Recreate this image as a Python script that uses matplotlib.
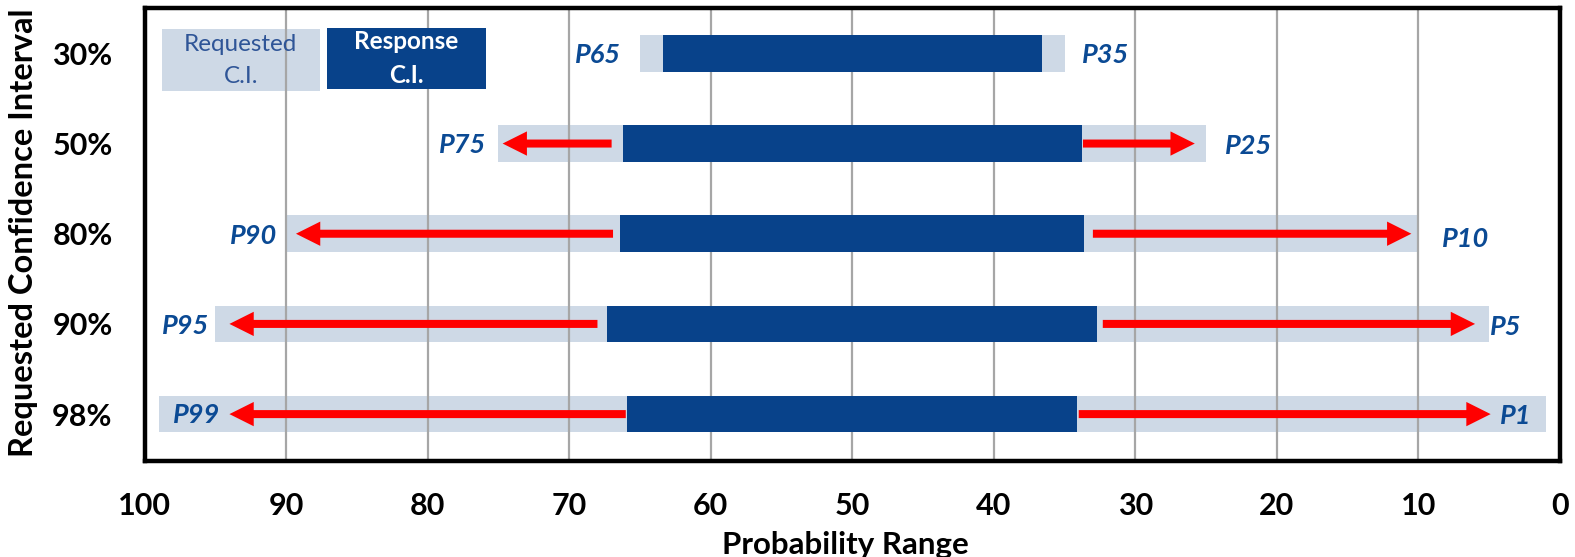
import matplotlib
matplotlib.use("Agg")
import matplotlib.pyplot as plt
from matplotlib.patches import Rectangle

# ---- data -------------------------------------------------------------
ci_labels = ["30%", "50%", "80%", "90%", "98%"]

# requested confidence interval bounds (probability %)
req_high = [65, 75, 90, 95, 99]
req_low = [35, 25, 10, 5, 1]

# response confidence interval bounds
resp_high = [63.4, 66.2, 66.4, 67.3, 65.9]
resp_low = [36.6, 33.8, 33.6, 32.7, 34.1]

high_labels = ["P65", "P75", "P90", "P95", "P99"]
low_labels = ["P35", "P25", "P10", "P5", "P1"]

# widening arrows (start -> tip); None where no arrow is drawn
arrow_hi_start = [None, 67.0, 66.9, 68.0, 66.0]
arrow_hi_tip = [None, 74.7, 89.3, 94.0, 94.0]
arrow_lo_start = [None, 33.7, 33.0, 32.3, 34.0]
arrow_lo_tip = [None, 25.8, 10.5, 6.0, 4.9]

x_ticks = [100, 90, 80, 70, 60, 50, 40, 30, 20, 10, 0]

# ---- style ------------------------------------------------------------
FONT = "Lato"
DARK = "#08428A"
LIGHT = "#CED9E6"
TEXT_BLUE = "#0B4A94"
RED = "#FF0000"

plt.rcParams["font.family"] = [FONT, "DejaVu Sans"]

W, H, DPI = 1575, 557, 100
fig = plt.figure(figsize=(W / DPI, H / DPI), dpi=DPI)
left_px, right_px, top_px, bot_px = 144.5, 1560, 8, 461
ax = fig.add_axes([left_px / W, 1 - bot_px / H,
                   (right_px - left_px) / W, (bot_px - top_px) / H])

rows = list(range(len(ci_labels)))
bar_h = 0.405

# requested (light) bars
ax.barh(rows, [h - l for h, l in zip(req_high, req_low)], left=req_low,
        height=bar_h, color=LIGHT, zorder=1)
# response (dark) bars
ax.barh(rows, [h - l for h, l in zip(resp_high, resp_low)], left=resp_low,
        height=bar_h, color=DARK, zorder=3)

# arrows
arrow_kw = dict(arrowstyle="simple,head_length=1.0,head_width=1.0,tail_width=0.33",
                mutation_scale=17.5, facecolor=RED, edgecolor="none", lw=0,
                shrinkA=0, shrinkB=0)
for r in rows:
    if arrow_hi_start[r] is not None:
        ax.annotate("", xy=(arrow_hi_tip[r], r), xytext=(arrow_hi_start[r], r),
                    arrowprops=arrow_kw, zorder=4)
        ax.annotate("", xy=(arrow_lo_tip[r], r), xytext=(arrow_lo_start[r], r),
                    arrowprops=arrow_kw, zorder=4)

# P labels: screen offsets in pixels from the requested bounds
px = 72 / DPI
hi_dx = [-19, -12, -9, -6, 62]
lo_dx = [17, 19, 24, 1, -46]
hi_dy = [-2, -1, -2, -2, -1]
lo_dy = [-2, -2, -5, -3, -2]
lab_kw = dict(fontsize=19.5, fontweight="bold", fontstyle="italic",
              color=TEXT_BLUE, va="center", textcoords="offset points", zorder=5)
for r in rows:
    ax.annotate(high_labels[r], xy=(req_high[r], r),
                xytext=(hi_dx[r] * px, hi_dy[r] * px), ha="right", **lab_kw)
    ax.annotate(low_labels[r], xy=(req_low[r], r),
                xytext=(lo_dx[r] * px, lo_dy[r] * px), ha="left", **lab_kw)

# legend boxes
ax.add_patch(Rectangle((0.0124, 0.817), 0.1116, 0.137, transform=ax.transAxes,
                       facecolor=LIGHT, edgecolor="none", zorder=1))
ax.text(0.068, 0.884, "Requested\nC.I.", transform=ax.transAxes, ha="center",
        va="center", fontsize=17.5, color="#2F5597", linespacing=1.6, zorder=5)
ax.add_patch(Rectangle((0.129, 0.821), 0.112, 0.135, transform=ax.transAxes,
                       facecolor=DARK, edgecolor="none", zorder=3))
ax.text(0.185, 0.889, "Response\nC.I.", transform=ax.transAxes, ha="center",
        va="center", fontsize=17.5, fontweight="bold", color="white",
        linespacing=1.6, zorder=5)

# axes
ax.set_xlim(100, 0)
ax.set_ylim(4.52, -0.503)
ax.set_xticks(x_ticks)
ax.set_xticklabels([str(t) for t in x_ticks], fontsize=22, fontweight="bold")
ax.set_yticks(rows)
ax.set_yticklabels(ci_labels, fontsize=22, fontweight="bold")
ax.tick_params(axis="both", length=0)
ax.tick_params(axis="x", pad=22)
ax.tick_params(axis="y", pad=23)
ax.xaxis.grid(True, color="#A6A6A6", linewidth=1.6)
for line in ax.get_xgridlines():
    line.set_zorder(2)

for s in ax.spines.values():
    s.set_linewidth(3.2)
    s.set_color("black")
    s.set_zorder(6)

ax.set_xlabel("Probability Range", fontsize=22.5, fontweight="bold")
ax.xaxis.set_label_coords(0.495, -0.185)
ax.xaxis.label.set_va("center")
ax.set_ylabel("Requested Confidence Interval", fontsize=23.5, fontweight="bold")
ax.yaxis.set_label_coords((24 - left_px) / (right_px - left_px), 0.503)
ax.yaxis.label.set_va("center")

fig.savefig("out.png", dpi=DPI)
